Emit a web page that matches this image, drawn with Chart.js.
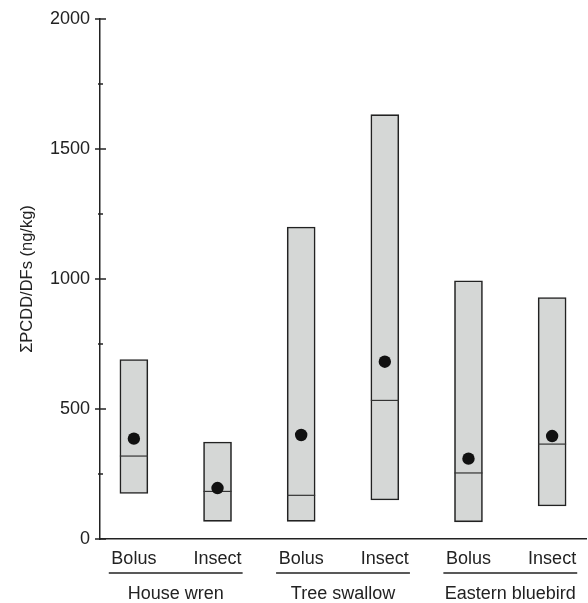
<!DOCTYPE html>
<html>
<head>
<meta charset="utf-8">
<script src="https://cdn.jsdelivr.net/npm/chart.js@4/dist/chart.umd.min.js"></script>
<style>
  html, body { margin: 0; padding: 0; background: #fff; }
  #wrap { width: 588px; height: 603px; }
</style>
</head>
<body>
<div id="wrap"><canvas id="c" width="588" height="603"></canvas></div>
<script>
const categories = ['Bolus', 'Insect', 'Bolus', 'Insect', 'Bolus', 'Insect'];
const groups = ['House wren', 'Tree swallow', 'Eastern bluebird'];
const rangeLow = [175, 68, 68, 150, 66, 127];
const rangeHigh = [690, 373, 1200, 1632, 993, 929];
const medians = [319, 183, 168, 533, 254, 365];
const means = [386, 196, 400, 682, 309, 396];
const yTickLabels = [0, 500, 1000, 1500, 2000];
const yMinorTicks = [250, 750, 1250, 1750];
const yTitle = '\u03A3PCDD/DFs (ng/kg)';

const FONT = '"Liberation Sans", Arial, Helvetica, sans-serif';
const INK = '#222';

const axisPlugin = {
  id: 'axisExtras',
  afterDraw(chart) {
    const ctx = chart.ctx;
    const xs = chart.scales.x, ys = chart.scales.y;
    const x0 = chart.chartArea.left;
    ctx.save();
    ctx.strokeStyle = INK;
    ctx.lineWidth = 1.5;
    yTickLabels.forEach(v => {
      const py = ys.getPixelForValue(v);
      ctx.beginPath();
      ctx.moveTo(x0 - 5, py);
      ctx.lineTo(x0 + 6, py);
      ctx.stroke();
    });
    yMinorTicks.forEach(v => {
      const py = ys.getPixelForValue(v);
      ctx.beginPath();
      ctx.moveTo(x0 - 2, py);
      ctx.lineTo(x0 + 3, py);
      ctx.stroke();
    });
    const yLine = chart.chartArea.bottom + 34;
    ctx.lineWidth = 1.3;
    ctx.fillStyle = INK;
    ctx.font = '18px ' + FONT;
    ctx.textAlign = 'center';
    ctx.textBaseline = 'alphabetic';
    groups.forEach((g, gi) => {
      const a = xs.getPixelForValue(gi * 2 - 0.3);
      const b = xs.getPixelForValue(gi * 2 + 1.3);
      ctx.beginPath();
      ctx.moveTo(a, yLine);
      ctx.lineTo(b, yLine);
      ctx.stroke();
      ctx.fillText(g, xs.getPixelForValue(gi * 2 + 0.5), yLine + 26);
    });
    ctx.restore();
  }
};

const barData = categories.map((c, i) => ({ x: i, y: [rangeLow[i], rangeHigh[i]] }));
const medData = categories.map((c, i) => ({ x: i, y: medians[i] }));
const meanData = categories.map((c, i) => ({ x: i, y: means[i] }));

new Chart(document.getElementById('c'), {
  type: 'bar',
  data: {
    datasets: [
      {
        type: 'bar',
        data: barData,
        order: 3,
        barThickness: 28,
        backgroundColor: '#d5d7d6',
        borderColor: INK,
        borderWidth: 1.6,
        borderSkipped: false
      },
      {
        type: 'line',
        data: medData,
        order: 2,
        showLine: false,
        pointStyle: 'line',
        pointRadius: 14,
        pointBorderWidth: 1.2,
        pointBorderColor: '#333',
        pointBackgroundColor: '#333'
      },
      {
        type: 'line',
        data: meanData,
        order: 1,
        showLine: false,
        pointStyle: 'circle',
        pointRadius: 6.2,
        pointBorderWidth: 0,
        pointBackgroundColor: '#111',
        pointBorderColor: '#111'
      }
    ]
  },
  options: {
    responsive: false,
    animation: false,
    events: [],
    layout: { autoPadding: false, padding: { top: 19, right: 2, left: 0, bottom: 0 } },
    plugins: { legend: { display: false }, tooltip: { enabled: false } },
    scales: {
      x: {
        type: 'linear',
        offset: false,
        min: -0.405,
        max: 5.405,
        grid: { display: false, offset: false, drawTicks: false, tickLength: 0 },
        border: { display: true, color: INK, width: 1.5 },
        afterBuildTicks: s => { s.ticks = categories.map((c, i) => ({ value: i })); },
        afterFit: s => { s.height = 64; s.paddingLeft = 0; s.paddingRight = 0; },
        ticks: {
          autoSkip: false,
          maxRotation: 0,
          padding: 9,
          color: INK,
          font: { family: FONT, size: 18 },
          callback: v => categories[v]
        }
      },
      y: {
        type: 'linear',
        min: 0,
        max: 2000,
        grid: { display: false, drawTicks: false, tickLength: 0 },
        border: { display: true, color: INK, width: 1.5 },
        afterBuildTicks: s => { s.ticks = yTickLabels.map(v => ({ value: v })); },
        afterFit: s => { s.width = 100; s.paddingTop = 0; s.paddingBottom = 0; },
        ticks: {
          padding: 10,
          color: INK,
          font: { family: FONT, size: 18 },
          callback: v => String(v)
        },
        title: {
          display: true,
          text: yTitle,
          color: INK,
          font: { family: FONT, size: 16.5 },
          padding: { top: 18, bottom: 0 }
        }
      }
    }
  },
  plugins: [axisPlugin]
});
</script>
</body>
</html>
